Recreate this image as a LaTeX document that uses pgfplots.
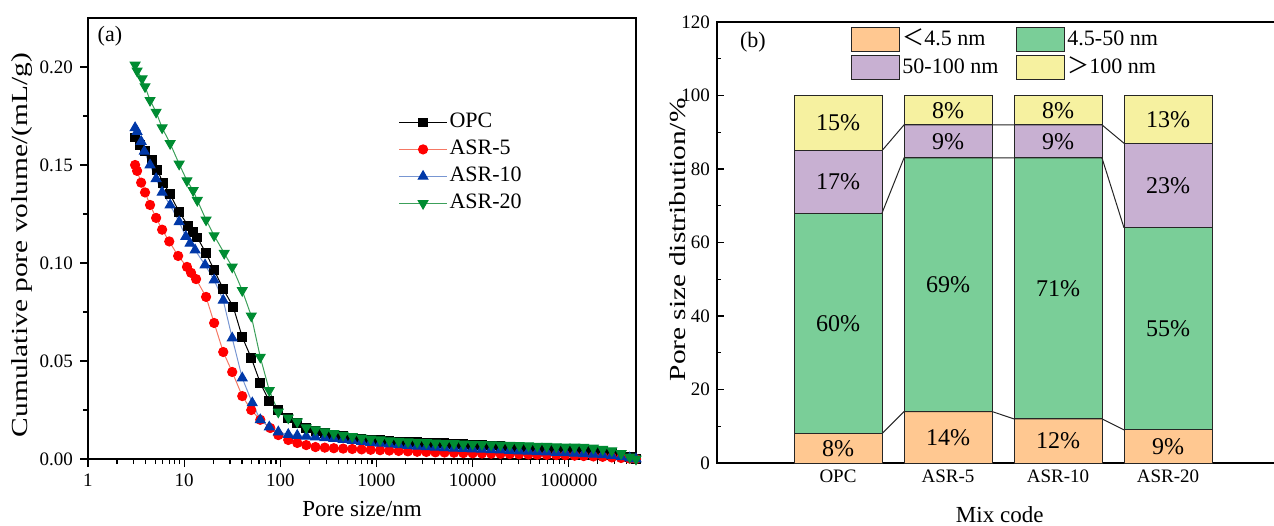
\documentclass[border=0pt]{standalone}
\usepackage{fontspec}
\setmainfont{Liberation Serif}
\newfontfamily\cjk{Noto Sans CJK SC}
\usepackage{graphicx}
\usepackage{pgfplots}
\pgfplotsset{compat=1.18}
\definecolor{cred}{RGB}{255,0,0}
\definecolor{credl}{RGB}{245,120,100}
\definecolor{cblue}{RGB}{0,56,168}
\definecolor{cbluel}{RGB}{120,150,210}
\definecolor{cgreen}{RGB}{0,140,50}
\definecolor{cgreenl}{RGB}{60,160,90}
\definecolor{cor}{RGB}{255,200,145}
\definecolor{cgr}{RGB}{122,206,152}
\definecolor{cpu}{RGB}{200,176,210}
\definecolor{cye}{RGB}{246,241,160}
\newcommand{\fs}[1]{\fontsize{#1}{#1}\selectfont}
\begin{document}
\begin{tikzpicture}
\path[use as bounding box] (0,0) rectangle (637pt,262.5pt);
% ---------------- (a) ----------------
\begin{axis}[
  at={(44pt,33pt)}, anchor=south west, scale only axis,
  width=274pt, height=220.5pt,
  xmode=log, xmin=1, xmax=500000, ymin=0, ymax=0.225,
  xtick={1,10,100,1000,10000,100000},
  xticklabels={1,10,100,1000,10000,100000},
  minor xtick={2,3,4,5,6,7,8,9,20,30,40,50,60,70,80,90,200,300,400,500,600,700,800,900,2000,3000,4000,5000,6000,7000,8000,9000,20000,30000,40000,50000,60000,70000,80000,90000,200000,300000,400000,500000},
  ytick={0,0.05,0.1,0.15,0.2},
  yticklabels={0.00,0.05,0.10,0.15,0.20},
  minor ytick={0.025,0.075,0.125,0.175},
  tick pos=left, tick align=outside,
  major tick length=4pt, minor tick length=2.5pt,
  every tick/.style={black, line width=0.6pt},
  axis line style={line width=0.7pt},
  tick label style={font=\fs{9.5}},
  xlabel={Pore size/nm}, ylabel={\scalebox{1.28}[1]{Cumulative pore volume/(mL/g)}},
  label style={font=\fs{11.5}},
  xlabel style={at={(axis description cs:0.5,0)}, anchor=center, yshift=-25pt},
  ylabel style={at={(axis description cs:0,0.485)}, anchor=center, yshift=33pt},
  legend style={draw=none, fill=none, at={(axis description cs:0.566,0.7925)}, anchor=north west,
     font=\fs{11}, inner sep=0pt, row sep=1pt, nodes={inner sep=1pt, text height=8pt, text depth=2.5pt}},
  legend cell align=left,
  legend image code/.code={\draw[mark repeat=2,mark phase=2,#1] plot coordinates {(0pt,0pt) (12pt,0pt) (24pt,0pt)};},
]
\addplot[black, line width=0.5pt, mark=square*, mark size=2.2pt, mark options={solid, fill=black}] coordinates {
(3.09,0.164) (3.48,0.160) (3.92,0.157) (4.64,0.1525) (5.23,0.1475) (6.04,0.141) (7.15,0.135) (8.87,0.126)
(11.0,0.119) (12.4,0.116) (13.7,0.113) (16.9,0.105) (20.5,0.0964) (25.5,0.0867) (32.4,0.0776) (40.2,0.0622)
(49.9,0.0515) (61.9,0.0388) (76.8,0.0296) (95.3,0.025) (121,0.0209) (150,0.0184) (186,0.0158) (232,0.0143)
(290,0.0133) (360,0.0124) (450,0.0116) (560,0.0110) (700,0.0104) (870,0.0099) (1090,0.0095) (1360,0.0092)
(1700,0.0089) (2120,0.0087) (2650,0.0085) (3300,0.0083) (4100,0.0081) (5100,0.0080) (6400,0.0078) (8000,0.0075)
(10000,0.0073) (12500,0.0071) (15600,0.0069) (19500,0.0067) (24300,0.0064) (30400,0.0061) (38000,0.0058)
(47000,0.0056) (59000,0.0053) (74000,0.0050) (92000,0.0047) (115000,0.0045) (143000,0.0042) (180000,0.0039)
(225000,0.0035) (280000,0.0030) (350000,0.0021) (430000,0.0009) (500000,0)};
\addlegendentry{OPC}
\addplot[credl, line width=0.5pt, mark=*, mark size=2.3pt, mark options={solid, draw=cred, fill=cred}] coordinates {
(3.09,0.150) (3.24,0.147) (3.57,0.141) (3.92,0.136) (4.42,0.1296) (5.11,0.123) (5.90,0.117) (7.0,0.111)
(8.66,0.1036) (10.7,0.098) (11.8,0.095) (13.3,0.0918) (16.9,0.0827) (20.5,0.0694) (25.5,0.0546) (31.6,0.0444)
(40.2,0.0321) (49.9,0.025) (61.9,0.020) (78.7,0.0158) (95.3,0.0122) (121,0.0097) (150,0.0082) (186,0.0071)
(232,0.0061) (290,0.0058) (360,0.0055) (450,0.0053) (560,0.0051) (700,0.0049) (870,0.0047) (1090,0.0045)
(1360,0.0043) (1700,0.0041) (2120,0.0039) (2650,0.0037) (3300,0.0036) (4100,0.0034) (5100,0.0033) (6400,0.0032)
(8000,0.0030) (10000,0.0029) (12500,0.0028) (15600,0.0027) (19500,0.0026) (24300,0.0025) (30400,0.0024)
(38000,0.0023) (47000,0.0022) (59000,0.0021) (74000,0.0020) (92000,0.0019) (115000,0.0017) (143000,0.0015)
(180000,0.0013) (225000,0.0011) (280000,0.0008) (350000,0.0005) (430000,0.0002) (500000,0)};
\addlegendentry{ASR-5}
\addplot[cbluel, line width=0.5pt, mark=triangle*, mark size=2.8pt, mark options={solid, draw=cblue, fill=cblue}] coordinates {
(3.09,0.169) (3.24,0.167) (3.57,0.162) (3.85,0.157) (4.42,0.150) (5.11,0.143) (5.90,0.136) (7.15,0.1296)
(8.87,0.121) (10.4,0.1135) (11.5,0.110) (13.0,0.1066) (16.5,0.099) (20.5,0.0913) (25.5,0.081) (31.6,0.0617)
(40.2,0.0413) (51.1,0.0286) (61.9,0.020) (76.8,0.0163) (95.3,0.0138) (121,0.0125) (150,0.0120) (186,0.0116)
(232,0.0112) (290,0.0108) (360,0.0104) (450,0.0099) (560,0.0094) (700,0.0089) (870,0.0084) (1090,0.0080)
(1360,0.0076) (1700,0.0072) (2120,0.0068) (2650,0.0065) (3300,0.0062) (4100,0.0059) (5100,0.0057) (6400,0.0055)
(8000,0.0053) (10000,0.0051) (12500,0.0049) (15600,0.0047) (19500,0.0045) (24300,0.0043) (30400,0.0041)
(38000,0.0039) (47000,0.0037) (59000,0.0035) (74000,0.0033) (92000,0.0031) (115000,0.0029) (143000,0.0027)
(180000,0.0024) (225000,0.0021) (280000,0.0017) (350000,0.0011) (430000,0.0005) (500000,0)};
\addlegendentry{ASR-10}
\addplot[cgreenl, line width=0.5pt, mark=triangle*, mark size=2.8pt, mark options={solid, rotate=180, draw=cgreen, fill=cgreen}] coordinates {
(3.09,0.201) (3.24,0.198) (3.65,0.194) (3.92,0.190) (4.42,0.183) (5.11,0.177) (5.90,0.169) (7.15,0.161)
(8.87,0.1505) (10.7,0.142) (12.4,0.137) (13.7,0.132) (16.9,0.122) (20.5,0.114) (26.1,0.105) (31.6,0.098)
(40.2,0.086) (49.9,0.073) (61.9,0.052) (76.8,0.035) (95.3,0.024) (121,0.021) (150,0.019) (186,0.016)
(232,0.015) (290,0.0140) (360,0.0130) (450,0.0122) (560,0.0115) (700,0.0108) (870,0.0102) (1090,0.0098)
(1360,0.0094) (1700,0.0091) (2120,0.0088) (2650,0.0086) (3300,0.0084) (4100,0.0082) (5100,0.0080) (6400,0.0079)
(8000,0.0077) (10000,0.0076) (12500,0.0075) (15600,0.0073) (19500,0.0072) (24300,0.0071) (30400,0.0069)
(38000,0.0068) (47000,0.0066) (59000,0.0065) (74000,0.0063) (92000,0.0062) (115000,0.0061) (143000,0.0060)
(180000,0.0056) (225000,0.0050) (280000,0.0043) (350000,0.0028) (430000,0.0010) (500000,0)};
\addlegendentry{ASR-20}
\node[font=\fs{11}] at (rel axis cs:0.04,0.959) {(a)};
\end{axis}
% ---------------- (b) bars ----------------
\begin{axis}[
  at={(358.5pt,31pt)}, anchor=south west, scale only axis,
  width=280.5pt, height=220.5pt,
  xmin=-0.1, xmax=5.0, ymin=0, ymax=120,
  ybar stacked, bar width=0.8,
  xtick={1,2,3,4}, xticklabels={OPC,ASR-5,ASR-10,ASR-20},
  x tick style={draw=none},
  ytick={0,20,40,60,80,100,120}, yticklabels={0,20,40,60,80,100,120},
  minor ytick={10,30,50,70,90,110},
  tick pos=left, tick align=inside,
  major tick length=3.5pt, minor tick length=2pt,
  every tick/.style={black, line width=0.6pt},
  axis line style={line width=0.7pt},
  tick label style={font=\fs{9.5}},
  xlabel={Mix code}, ylabel={\scalebox{1.28}[1]{Pore size distribution/\%}},
  label style={font=\fs{11.5}},
  xlabel style={at={(axis description cs:0.504,0)}, anchor=center, yshift=-26pt},
  ylabel style={at={(axis description cs:0,0.506)}, anchor=center, yshift=19.5pt},
  legend columns=2,
  legend style={draw=none, fill=none, at={(axis description cs:0.239,0.989)}, anchor=north west,
     font=\fs{11}, inner sep=0pt, row sep=1.5pt, nodes={inner sep=1pt, text height=8pt, text depth=2.5pt},
     /tikz/every even column/.append style={column sep=8pt}},
  legend cell align=left,
  legend image code/.code={\draw[#1, draw=black!85, line width=0.5pt] (0pt,-6pt) rectangle (24pt,6pt);},
]
\addplot[fill=cor, draw=black!85, line width=0.5pt] coordinates {(1,8) (2,14) (3,12) (4,9)};
\addplot[fill=cgr, draw=black!85, line width=0.5pt] coordinates {(1,60) (2,69) (3,71) (4,55)};
\addplot[fill=cpu, draw=black!85, line width=0.5pt] coordinates {(1,17) (2,9) (3,9) (4,23)};
\addplot[fill=cye, draw=black!85, line width=0.5pt] coordinates {(1,15) (2,8) (3,8) (4,13)};
\legend{{{\cjk ＜}4.5 nm},{4.5-50 nm},{50-100 nm},{{\cjk ＞}100 nm}}
\end{axis}
% ---------------- (b) overlay ----------------
\begin{axis}[
  at={(358.5pt,31pt)}, anchor=south west, scale only axis,
  width=280.5pt, height=220.5pt,
  xmin=-0.1, xmax=5.0, ymin=0, ymax=120,
  hide axis, clip=false,
]
\addplot[black!85, line width=0.5pt] coordinates {(1.4,8) (1.6,14) (2.4,14) (2.6,12) (3.4,12) (3.6,9)};
\addplot[black!85, line width=0.5pt] coordinates {(1.4,68) (1.6,83) (2.4,83) (2.6,83) (3.4,83) (3.6,64)};
\addplot[black!85, line width=0.5pt] coordinates {(1.4,85) (1.6,92) (2.4,92) (2.6,92) (3.4,92) (3.6,87)};
\begin{scope}[every node/.style={font=\fs{12}}]
\node at (axis cs:1,4) {8\%};
\node at (axis cs:1,38) {60\%};
\node at (axis cs:1,76.5) {17\%};
\node at (axis cs:1,92.5) {15\%};
\node at (axis cs:2,7) {14\%};
\node at (axis cs:2,48.5) {69\%};
\node at (axis cs:2,87.5) {9\%};
\node at (axis cs:2,96) {8\%};
\node at (axis cs:3,6) {12\%};
\node at (axis cs:3,47.5) {71\%};
\node at (axis cs:3,87.5) {9\%};
\node at (axis cs:3,96) {8\%};
\node at (axis cs:4,4.5) {9\%};
\node at (axis cs:4,36.5) {55\%};
\node at (axis cs:4,75.5) {23\%};
\node at (axis cs:4,93.5) {13\%};
\end{scope}
\node[font=\fs{11}] at (rel axis cs:0.064,0.955) {(b)};
\end{axis}
\end{tikzpicture}
\end{document}
